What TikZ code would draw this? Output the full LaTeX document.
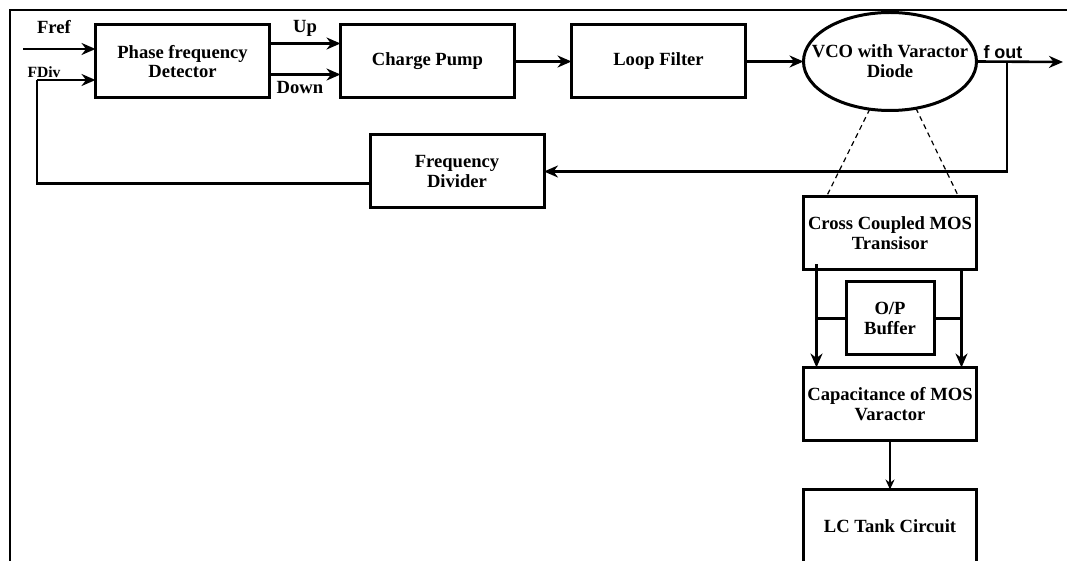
\documentclass[tikz,border=0pt]{standalone}
\usepackage{fontspec}
\setmainfont{Liberation Serif}
\setsansfont{Liberation Sans}
\usepackage{tikz}
\usetikzlibrary{positioning,arrows.meta,shapes,calc}

\begin{document}
\begin{tikzpicture}[
    x=0.5pt, y=-0.5pt,
    block/.style={rectangle, draw=black, line width=1.5pt, minimum width=87pt,
        minimum height=36.5pt, inner sep=1pt, outer sep=0pt, align=center,
        font=\fontsize{9.3}{9.9}\selectfont\bfseries},
    vcoshape/.style={ellipse, draw=black, line width=1.5pt, minimum width=86.5pt,
        minimum height=49pt, inner xsep=-12pt, inner ysep=4pt, outer sep=0pt,
        align=center, font=\fontsize{9.3}{9.9}\selectfont\bfseries},
    arr/.style={-{Stealth[length=7pt, width=6pt]}, line width=1.3pt},
    thinarr/.style={-{Stealth[length=5pt, width=4.5pt]}, line width=0.9pt},
    wire/.style={line width=1.3pt},
    lbl/.style={font=\fontsize{9.3}{9.9}\selectfont\bfseries, inner sep=0pt},
]
\clip (0,0) rectangle (1067,561);
\fill[white] (0,0) rectangle (1067,561);
\draw[line width=1pt] (10,561) |- (1067,10);

% top row
\node[block] (pfd) at (182.5,61.5) {Phase frequency\\Detector};
\node[block, right=35.5pt of pfd] (chargepump) {Charge Pump};
\node[block, right=28.5pt of chargepump] (loopfilter) {Loop Filter};
\node[vcoshape, right=29pt of loopfilter] (vco) {VCO with Varactor\\Diode};
\node[block] (divider) at (457,171.5) {Frequency\\Divider};

% VCO detail
\node[block, minimum width=86.5pt, below=43pt of vco] (crossmos) {Cross Coupled MOS\\Transisor};
\node[block, minimum width=86.5pt, below=49pt of crossmos] (mosvar) {Capacitance of MOS\\Varactor};
\node[block, minimum width=44pt] (opbuffer) at ($(crossmos.south)!0.5!(mosvar.north)$) {O/P\\Buffer};
\node[block, minimum width=86.5pt, below=24.5pt of mosvar] (lctank) {LC Tank Circuit};

% inputs
\coordinate (frefin) at (23,49);
\coordinate (fdivcorner) at (37,80);
\draw[arr] (frefin) -- (frefin -| pfd.west);
\node[lbl] (freflbl) at (54,27) {Fref};
\node[lbl, font=\fontsize{7.8}{8}\selectfont\bfseries] (fdivlbl) at (44,72) {FDiv};

% forward path
\draw[arr] ([yshift=9pt]pfd.east) -- ([yshift=9pt]chargepump.west);
\draw[arr] ([yshift=-6.5pt]pfd.east) -- ([yshift=-6.5pt]chargepump.west);
\node[lbl] (uplbl) at (305,28) {Up};
\node[lbl] (downlbl) at (300,88) {Down};
\draw[arr] (chargepump) -- (loopfilter);
\draw[arr] (loopfilter) -- (vco);

% output and feedback
\coordinate (fouttap) at (1007,62);
\coordinate (foutend) at (1063,62);
\draw[arr] (vco.east) -- (foutend);
\node[lbl, font=\fontsize{9}{9}\selectfont\sffamily\bfseries] (foutlbl) at (1003,52) {f out};
\draw[arr] (fouttap) |- (divider.east);
\draw[wire] ([yshift=-6pt]divider.west) -| (fdivcorner);
\draw[arr] (fdivcorner) -- (fdivcorner -| pfd.west);

% zoom into VCO
\draw[dashed, line width=0.6pt, dash pattern=on 2.5pt off 2pt] (vco.247) -- ([xshift=11.5pt]crossmos.north west);
\draw[dashed, line width=0.6pt, dash pattern=on 2.5pt off 2pt] (vco.299) -- ([xshift=-9pt]crossmos.north east);

% inside VCO
\coordinate (leftdrop) at ([xshift=6.5pt, yshift=2.5pt]crossmos.south west);
\coordinate (rightdrop) at ([xshift=-7.5pt]crossmos.south east);
\draw[arr] (leftdrop) -- (leftdrop |- mosvar.north);
\draw[arr] (rightdrop) -- (rightdrop |- mosvar.north);
\draw[wire] (leftdrop |- opbuffer.west) -- (opbuffer.west);
\draw[wire] (opbuffer.east) -- (rightdrop |- opbuffer.east);
\draw[thinarr] (mosvar) -- (lctank);
\end{tikzpicture}
\end{document}
